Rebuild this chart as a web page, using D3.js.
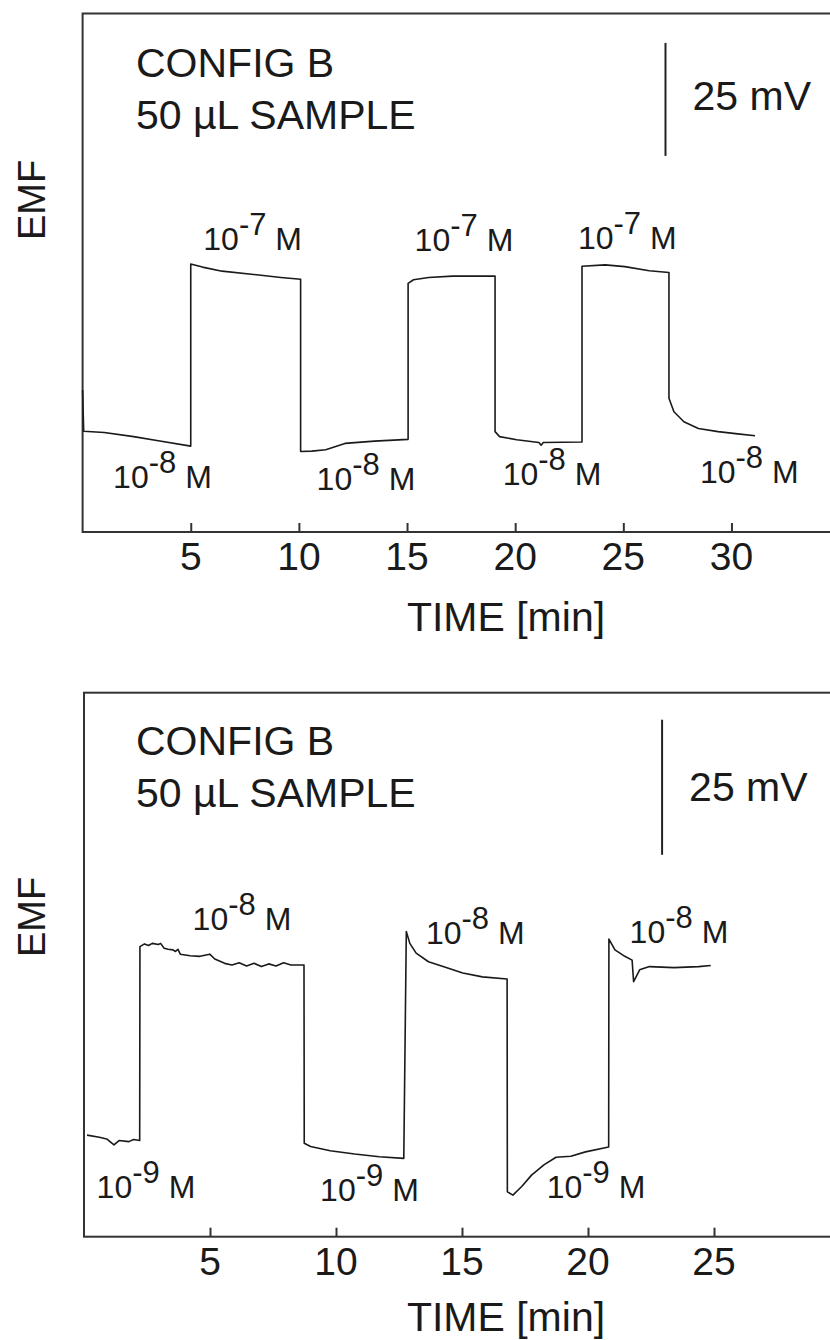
<!DOCTYPE html>
<html>
<head>
<meta charset="utf-8">
<script src="https://cdn.jsdelivr.net/npm/d3@7"></script>
<style>
  body { margin: 0; background: #fff; }
  svg text { font-family: "Liberation Sans", Arial, Helvetica, sans-serif; fill: #1a1a1a; }
</style>
</head>
<body>
<div id="chart"></div>
<script>
// ---- top panel: 10^-8 / 10^-7 M steps (EMF in mV, relative) ----
const topTime = [0, 0.05, 1.0, 2.36, 3.5, 5.0, 5.0, 5.54, 6.45, 8.04, 9.17, 10.08,
  10.08, 10.6, 11.24, 12.13, 13.49, 15.05, 15.05, 15.3, 16.0, 17.1, 19.07,
  19.07, 19.28, 20.07, 21.1, 21.2, 21.3, 23.09, 23.09, 24.16, 25.07, 26.2, 27.11,
  27.11, 27.34, 27.8, 28.47, 29.38, 30.29, 31.09];
const topEmf = [31.4, 22.3, 22.0, 21.1, 20.2, 19.0, 59.3, 58.6, 57.7, 56.9, 56.3, 55.9,
  17.8, 17.9, 18.2, 19.6, 20.1, 20.5, 55.0, 55.8, 56.3, 56.6, 56.6,
  22.2, 21.1, 20.4, 19.8, 19.2, 19.8, 19.9, 58.8, 59.1, 58.7, 57.8, 57.4,
  29.6, 26.6, 24.4, 22.9, 22.2, 21.7, 21.3];
const topTicks = [5, 10, 15, 20, 25, 30];
const topHighLabels = [[5.58, 62.4], [15.35, 62.2], [22.9, 62.7]];
const topLowLabels = [[1.41, 9.7], [10.82, 9.3], [19.42, 10.4], [28.54, 10.8]];

// ---- bottom panel: 10^-9 / 10^-8 M steps ----
const bottomTime = [0.12, 0.61, 0.90, 1.19, 1.39, 1.78, 1.97, 2.21,
  2.22, 2.40, 2.56, 2.71, 2.95, 3.04, 3.18, 3.34, 3.53, 3.63, 3.73, 3.82, 4.21, 4.60,
  4.99, 5.19, 5.58, 5.87, 6.16, 6.45, 6.75, 7.04, 7.33, 7.62, 7.92, 8.21, 8.73,
  8.74, 8.99, 9.77, 10.74, 11.72, 12.69,
  12.79, 12.93, 13.18, 13.67, 14.25, 15.03, 15.81, 16.79,
  16.8, 17.02, 17.37, 17.76, 18.25, 18.73, 19.32, 19.90, 20.82,
  20.83, 21.07, 21.46, 21.75, 21.81, 22.05, 22.44, 23.41, 24.39, 24.87];
const bottomEmf = [18.8, 18.4, 18.1, 17.0, 17.8, 17.6, 18.0, 17.8,
  53.7, 54.2, 53.9, 54.3, 54.1, 54.3, 53.4, 53.2, 53.1, 52.8, 53.2, 52.3, 52.0, 51.9,
  52.3, 51.4, 50.6, 50.3, 50.7, 50.1, 50.6, 50.0, 50.5, 50.1, 50.7, 50.3, 50.3,
  17.3, 16.7, 15.9, 15.3, 14.8, 14.5,
  56.5, 54.3, 52.5, 50.9, 50.0, 48.8, 48.1, 47.7,
  8.3, 7.7, 9.3, 11.4, 13.3, 14.7, 14.9, 15.7, 16.6,
  55.1, 53.1, 51.9, 51.2, 47.2, 49.4, 50.0, 49.8, 50.0, 50.2];
const bottomTicks = [5, 10, 15, 20, 25];
const bottomHighLabels = [[4.31, 56.8], [13.57, 54.2], [21.65, 54.3]];
const bottomLowLabels = [[0.50, 7.1], [9.37, 6.6], [18.36, 7.2]];

const titleLines = ["CONFIG B", "50 \u00B5L SAMPLE"];
const scaleBarMv = 25;

const width = 830;
const height = 1340;

const svg = d3.select("#chart")
  .append("svg")
  .attr("width", width)
  .attr("height", height);

function drawPanel(opts) {
  const g = svg.append("g");

  // x: minutes, y: relative EMF in mV
  const x = d3.scaleLinear().domain(opts.xDomain).range([opts.left, opts.right]);
  const y = d3.scaleLinear().domain(opts.yDomain).range([opts.bottom, opts.top]);

  // frame (runs off the right edge like the original figure)
  g.append("rect")
    .attr("x", opts.left)
    .attr("y", opts.top)
    .attr("width", opts.right - opts.left + 20)
    .attr("height", opts.bottom - opts.top)
    .attr("fill", "none")
    .attr("stroke", "#333")
    .attr("stroke-width", 2);

  // inward ticks
  const axis = d3.axisTop(x)
    .tickValues(opts.ticks)
    .tickSize(9)
    .tickFormat("");
  const axisG = g.append("g")
    .attr("transform", `translate(0,${opts.bottom})`)
    .call(axis);
  axisG.select(".domain").remove();
  axisG.selectAll("line").attr("stroke", "#333").attr("stroke-width", 2);

  g.selectAll(".tick-label")
    .data(opts.ticks)
    .enter()
    .append("text")
    .attr("x", (d) => x(d))
    .attr("y", opts.bottom + 38)
    .attr("text-anchor", "middle")
    .style("font-size", "39px")
    .text((d) => d);

  g.append("text")
    .attr("x", 506)
    .attr("y", opts.bottom + opts.timeOffset)
    .attr("text-anchor", "middle")
    .style("font-size", "41px")
    .text("TIME [min]");

  g.append("text")
    .attr("transform", `translate(45,${opts.emfY}) rotate(-90)`)
    .attr("text-anchor", "middle")
    .style("font-size", "38px")
    .text("EMF");

  // title
  g.selectAll(".title")
    .data(titleLines)
    .enter()
    .append("text")
    .attr("x", 136)
    .attr("y", (d, i) => opts.top + opts.titleOffset + i * 52)
    .style("font-size", "41px")
    .text((d) => d);

  // 25 mV scale bar
  g.append("line")
    .attr("x1", x(opts.barTime))
    .attr("x2", x(opts.barTime))
    .attr("y1", y(opts.barBase))
    .attr("y2", y(opts.barBase + scaleBarMv))
    .attr("stroke", "#222")
    .attr("stroke-width", 2);

  g.append("text")
    .attr("x", x(opts.barTime) + 27)
    .attr("y", opts.barTextY)
    .style("font-size", "41px")
    .text(scaleBarMv + " mV");

  // trace
  const points = opts.time.map((t, i) => [t, opts.emf[i]]);
  const line = d3.line()
    .x((d) => x(d[0]))
    .y((d) => y(d[1]));

  g.append("path")
    .datum(points)
    .attr("d", line)
    .attr("fill", "none")
    .attr("stroke", "#1a1a1a")
    .attr("stroke-width", 1.6)
    .attr("stroke-linejoin", "round");

  // concentration labels, 10^n M
  function concLabel(pos, exp) {
    const t = g.append("text")
      .attr("x", x(pos[0]))
      .attr("y", y(pos[1]))
      .style("font-size", "32px");
    t.append("tspan").text("10");
    t.append("tspan").attr("dy", -15).style("font-size", "31px").text(exp);
    t.append("tspan").attr("dy", 15).text(" M");
  }
  opts.highLabels.forEach((p) => concLabel(p, opts.highExp));
  opts.lowLabels.forEach((p) => concLabel(p, opts.lowExp));
}

drawPanel({
  left: 82.6, right: 839.6, top: 13.5, bottom: 532,
  xDomain: [0, 35], yDomain: [0, 114.7],
  ticks: topTicks, time: topTime, emf: topEmf,
  highLabels: topHighLabels, lowLabels: topLowLabels,
  highExp: "-7", lowExp: "-8",
  barTime: 26.95, barBase: 83.2, barTextY: 110,
  titleOffset: 63.5, emfY: 200, timeOffset: 99
});

drawPanel({
  left: 84, right: 840, top: 692.7, bottom: 1236.7,
  xDomain: [0, 30], yDomain: [0, 100.7],
  ticks: bottomTicks, time: bottomTime, emf: bottomEmf,
  highLabels: bottomHighLabels, lowLabels: bottomLowLabels,
  highExp: "-8", lowExp: "-9",
  barTime: 22.94, barBase: 70.7, barTextY: 801,
  titleOffset: 62.3, emfY: 917, timeOffset: 94
});
</script>
</body>
</html>
